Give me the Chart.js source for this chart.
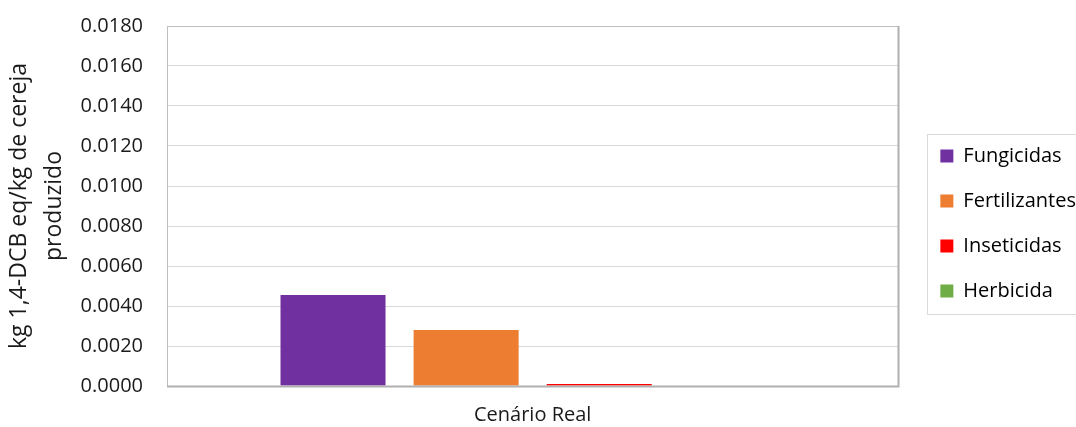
<!DOCTYPE html>
<html>
<head>
<meta charset="utf-8">
<script src="https://cdn.jsdelivr.net/npm/chart.js@4"></script>
<style>
  body { margin: 0; background: #fff; }
  #wrap { width: 1076px; height: 427px; position: relative; overflow: hidden; }
</style>
</head>
<body>
<div id="wrap"><canvas id="chart"></canvas></div>
<script>
const categories = ['Cenário Real'];
const seriesNames = ['Fungicidas', 'Fertilizantes', 'Inseticidas', 'Herbicida'];
const seriesValues = [[0.00455], [0.0028], [0.0001], [0]];
const seriesColors = ['#7030a0', '#ed7d31', '#ff0000', '#70ad47'];
const yTitle = ['kg 1,4-DCB eq/kg de cereja', 'produzido'];

const FONT = "'Open Sans', sans-serif";

// shift the legend a bit away from the plot and draw its frame, like the excel export
const legendFrame = {
    id: 'legendFrame',
    afterLayout(chart) {
        const lg = chart.legend;
        if (!lg) return;
        lg.left += 17; lg.right += 17;
        lg.top -= 3; lg.bottom -= 3;
    },
    afterDraw(chart) {
        const { ctx, chartArea } = chart;
        ctx.save();
        // plot border
        ctx.strokeStyle = '#bfbfbf';
        ctx.lineWidth = 1;
        ctx.strokeRect(Math.round(chartArea.left) + 0.5, Math.round(chartArea.top) + 0.5,
            Math.round(chartArea.width), Math.round(chartArea.height));
        ctx.strokeStyle = '#b0b0b0';
        ctx.lineWidth = 2;
        ctx.beginPath();
        ctx.moveTo(chartArea.left, Math.round(chartArea.bottom) + 0.5);
        ctx.lineTo(chartArea.right + 1, Math.round(chartArea.bottom) + 0.5);
        ctx.moveTo(Math.round(chartArea.right) + 0.5, chartArea.top);
        ctx.lineTo(Math.round(chartArea.right) + 0.5, chartArea.bottom + 1);
        ctx.stroke();
        // legend frame
        const hb = chart.legend.legendHitBoxes;
        if (hb && hb.length) {
            const first = hb[0], last = hb[hb.length - 1];
            const x = Math.round(first.left - 13) + 0.5;
            const y = Math.round(first.top - 12) + 0.5;
            const b = Math.round(last.top + last.height + 13) + 0.5;
            ctx.strokeStyle = '#d9d9d9';
            ctx.lineWidth = 1;
            ctx.strokeRect(x, y, 1200 - x, b - y);
        }
        ctx.restore();
    }
};

new Chart(document.getElementById('chart'), {
    type: 'bar',
    data: {
        labels: categories,
        datasets: seriesNames.map((name, i) => ({
            label: name,
            data: seriesValues[i],
            backgroundColor: seriesColors[i],
            borderWidth: 0,
            categoryPercentage: 0.728,
            barPercentage: 0.789
        }))
    },
    options: {
        responsive: true,
        maintainAspectRatio: false,
        animation: false,
        layout: { padding: { top: 26, left: 0, right: 7, bottom: 0 } },
        plugins: {
            legend: {
                position: 'right',
                maxWidth: 178,
                labels: {
                    boxWidth: 13,
                    boxHeight: 13,
                    padding: 25,
                    color: '#000',
                    font: { family: FONT, size: 20 }
                }
            },
            tooltip: { enabled: false }
        },
        scales: {
            x: {
                grid: { display: false },
                border: { display: false },
                ticks: { color: '#1a1a1a', padding: 9, font: { family: FONT, size: 20 } },
                afterFit: (scale) => { scale.height = 41; scale.paddingLeft = 0; scale.paddingRight = 0; }
            },
            y: {
                min: 0,
                max: 0.018,
                ticks: {
                    stepSize: 0.002,
                    color: '#1a1a1a',
                    padding: 24,
                    font: { family: FONT, size: 20 },
                    callback: (v) => Number(v).toFixed(4)
                },
                grid: { color: '#d9d9d9', drawTicks: false },
                border: { display: false },
                title: {
                    display: true,
                    text: yTitle,
                    color: '#1a1a1a',
                    padding: { top: 2, bottom: 0 },
                    font: { family: FONT, size: 23, lineHeight: 1.53 }
                },
                afterFit: (scale) => { scale.width = 167; scale.paddingTop = 0; scale.paddingBottom = 0; }
            }
        }
    },
    plugins: [legendFrame]
});
</script>
</body>
</html>
